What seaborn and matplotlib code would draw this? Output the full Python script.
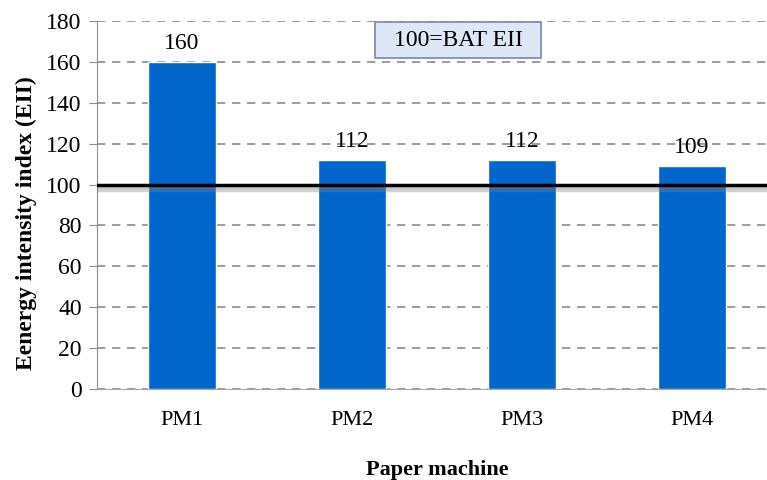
import numpy as np
import pandas as pd
import matplotlib
matplotlib.use("Agg")
import matplotlib.pyplot as plt
import matplotlib.patheffects as pe
from matplotlib.patches import Rectangle
import seaborn as sns

machines = ["PM1", "PM2", "PM3", "PM4"]
eii = [160, 112, 112, 109]
bat_level = 100
yticks = [0, 20, 40, 60, 80, 100, 120, 140, 160, 180]

df = pd.DataFrame({"machine": machines, "eii": eii})

sns.set_style("white")
plt.rcParams["font.family"] = ["Liberation Serif", "DejaVu Serif"]
plt.rcParams["text.color"] = "black"
plt.rcParams["axes.labelcolor"] = "black"
plt.rcParams["xtick.color"] = "black"
plt.rcParams["ytick.color"] = "black"

fig = plt.figure(figsize=(7.67, 4.8), dpi=100)
ax = fig.add_axes([0.1265, 0.1896, 0.8866, 0.7667])

sns.barplot(data=df, x="machine", y="eii", color="#0066CC", saturation=1,
            width=0.4, ax=ax, zorder=3)

ax.bar_label(ax.containers[0], labels=[str(v) for v in eii], padding=6,
             fontsize=17)

# BAT reference line with a soft shadow
ax.axhline(bat_level, color="black", lw=2.5, zorder=5,
           path_effects=[pe.SimpleLineShadow(offset=(0, -4), shadow_color="gray", alpha=0.35),
                         pe.SimpleLineShadow(offset=(0, -2), shadow_color="gray", alpha=0.4),
                         pe.Normal()])

ax.set_ylim(0, 180)
ax.set_xlim(-0.5, 3.5)
ax.set_yticks(yticks)
ax.yaxis.grid(True, linestyle=(0, (5, 4)), color="#8c8c8c", lw=1.2, zorder=0)
ax.set_axisbelow(True)

for s in ["top", "right"]:
    ax.spines[s].set_visible(False)
ax.spines["left"].set_color("#8c8c8c")
ax.spines["bottom"].set_color("#a6a6a6")
ax.tick_params(axis="y", left=True, length=6, color="#8c8c8c", labelcolor="black",
               labelsize=17, pad=5)
ax.tick_params(axis="x", bottom=False, labelsize=16, pad=12)

ax.set_ylabel("Eenergy intensity index (EII)", fontsize=17, fontweight="bold")
ax.yaxis.set_label_coords(-0.089, 0.45)
ax.set_xlabel("Paper machine", fontsize=16, fontweight="bold", labelpad=22)

# "100=BAT EII" box
ax.add_patch(Rectangle((0.409, 0.899), 0.244, 0.098, transform=ax.transAxes,
                       facecolor="#dde7f6", edgecolor="#8090b4", lw=1.3, zorder=6,
                       clip_on=False))
ax.text(0.531, 0.948, "100=BAT EII", transform=ax.transAxes, ha="center", va="center",
        fontsize=17, zorder=7)

fig.savefig("out.png", dpi=100)
